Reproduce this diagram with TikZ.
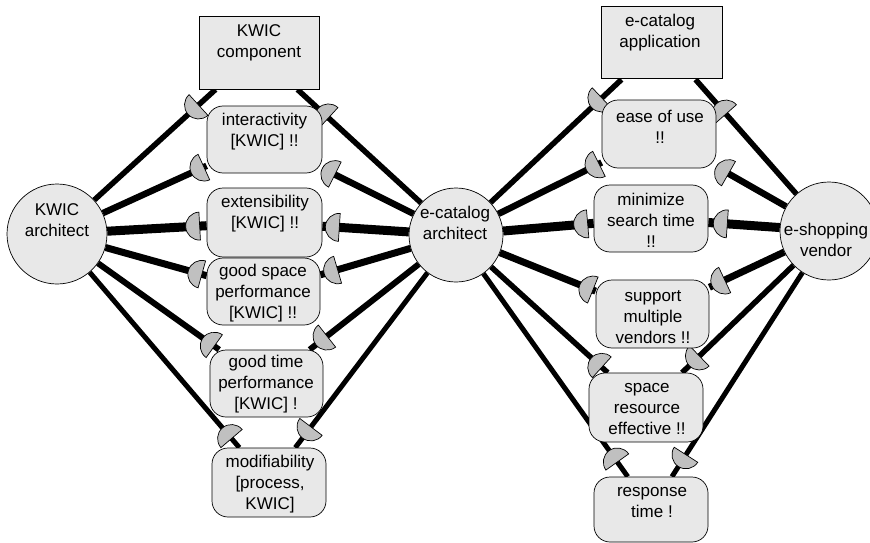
\documentclass[tikz,border=0pt]{standalone}
\usepackage{fontspec}
\setmainfont{Liberation Sans}
\usetikzlibrary{decorations.markings,backgrounds}
\definecolor{shapefill}{RGB}{232,232,232}
\definecolor{dfill}{RGB}{192,192,192}
\tikzset{
  actor/.style={circle, draw=black, line width=0.7pt, fill=shapefill, inner sep=0pt},
  res/.style={rectangle, draw=black, line width=1pt, fill=shapefill, inner sep=0pt},
  soft/.style={rectangle, rounded corners=16pt, draw=black, line width=0.7pt, fill=shapefill, inner sep=0pt},
  lbl/.style={font=\fontsize{17}{21}\selectfont, align=center, inner sep=0pt},
  link/.style={line width=#1, draw=black},
  dmk/.style={line width=0.7pt, draw=black, fill=dfill},
  dto/.style={postaction={decorate, decoration={markings, mark=at position #1 with {\filldraw[dmk] (0pt,-14pt) arc[start angle=-90,end angle=90,radius=14pt] -- cycle;}}}},
  dback/.style={postaction={decorate, decoration={markings, mark=at position #1 with {\filldraw[dmk] (0pt,14pt) arc[start angle=90,end angle=270,radius=14pt] -- cycle;}}}}
}
\begin{document}
\begin{tikzpicture}[x=1pt,y=-1pt]
\useasboundingbox (0,0) rectangle (870,543);
% resources
\node[res, minimum width=120pt, minimum height=72pt] (KC) at (259,53) {};
\node[lbl] (KCt) at (259,43) {KWIC\\component};
\node[res, minimum width=121pt, minimum height=72pt] (AP) at (661.5,43) {};
\node[lbl] (APt) at (660,33) {e-catalog\\application};
% actors
\node[actor, minimum size=100pt] (KA) at (57,234) {};
\node[lbl] (KAt) at (57,220) {KWIC\\architect};
\node[actor, minimum size=94pt] (EA) at (456,235) {};
\node[lbl] (EAt) at (455,223) {e-catalog\\architect};
\node[actor, minimum size=98pt] (EV) at (829,231) {};
\node[lbl] (EVt) at (826,240) {e-shopping\\vendor};
% softgoals left
\node[soft, minimum width=115pt, minimum height=67pt] (IN) at (264.5,139.5) {};
\node[lbl] (INt) at (264.5,132) {interactivity\\{}[KWIC] !!};
\node[soft, minimum width=115pt, minimum height=69pt] (EX) at (264.5,222.5) {};
\node[lbl] (EXt) at (265,214) {extensibility\\{}[KWIC] !!};
\node[soft, minimum width=113pt, minimum height=67pt] (GS) at (263.5,291.5) {};
\node[lbl] (GSt) at (263,293) {good space\\performance\\{}[KWIC] !!};
\node[soft, minimum width=113pt, minimum height=67pt] (GT) at (266.5,383.5) {};
\node[lbl] (GTt) at (266,384) {good time\\performance\\{}[KWIC] !};
\node[soft, minimum width=114pt, minimum height=69pt] (MO) at (269,482.5) {};
\node[lbl] (MOt) at (270,484) {modifiability\\{}[process,\\KWIC]};
% softgoals right
\node[soft, minimum width=114pt, minimum height=68pt] (EU) at (659,134) {};
\node[lbl] (EUt) at (660,127) {ease of use\\!!};
\node[soft, minimum width=114pt, minimum height=67pt] (MS) at (651,218.5) {};
\node[lbl] (MSt) at (651,220) {minimize\\search time\\!!};
\node[soft, minimum width=113pt, minimum height=68pt] (SM) at (652.5,314) {};
\node[lbl] (SMt) at (653,317) {support\\multiple\\vendors !!};
\node[soft, minimum width=114pt, minimum height=69pt] (SR) at (646,407.5) {};
\node[lbl] (SRt) at (647,409) {space\\resource\\effective !!};
\node[soft, minimum width=114pt, minimum height=65pt] (RT) at (651,509.5) {};
\node[lbl] (RTt) at (652,503) {response\\time !};
% links
\begin{pgfonlayer}{background}
\draw[link=5.5pt, dto=23pt] ([xshift=17pt]KC.south west) -- (KA);
\draw[link=5.5pt, dback=42pt] ([xshift=-22pt]KC.south east) -- (EA);
\draw[link=6.5pt, dto=3pt] (IN) -- (KA);
\draw[link=6.5pt, dback=14pt] (IN) -- (EA);
\draw[link=9pt, dto=7pt] (EX) -- (KA);
\draw[link=9pt, dback=17pt] (EX) -- (EA);
\draw[link=7pt, dto=5pt] (GS) -- (KA);
\draw[link=7pt, dback=18pt] (GS) -- (EA);
\draw[link=6pt, dto=6pt] (GT) -- (KA);
\draw[link=6pt, dback=22pt] (GT) -- (EA);
\draw[link=5pt, dto=12pt] (MO) -- (KA);
\draw[link=5pt, dback=26pt] (MO) -- (EA);
\draw[link=5.5pt, dto=27pt] ([xshift=21pt]AP.south west) -- (EA);
\draw[link=5.5pt, dback=46pt] ([xshift=-27pt]AP.south east) -- (EV);
\draw[link=6.5pt, dto=3pt] (EU) -- (EA);
\draw[link=6.5pt, dback=14pt] (EU) -- (EV);
\draw[link=9pt, dto=6pt] (MS) -- (EA);
\draw[link=9pt, dback=19pt] (MS) -- (EV);
\draw[link=7pt, dto=3pt] (SM) -- (EA);
\draw[link=7pt, dback=17pt] (SM) -- (EV);
\draw[link=5.5pt, dto=8pt] (SR) -- (EA);
\draw[link=5.5pt, dback=24pt] (SR) -- (EV);
\draw[link=5pt, dto=18pt] (RT) -- (EA);
\draw[link=5pt, dback=26pt] (RT) -- (EV);
\end{pgfonlayer}
\end{tikzpicture}
\end{document}
